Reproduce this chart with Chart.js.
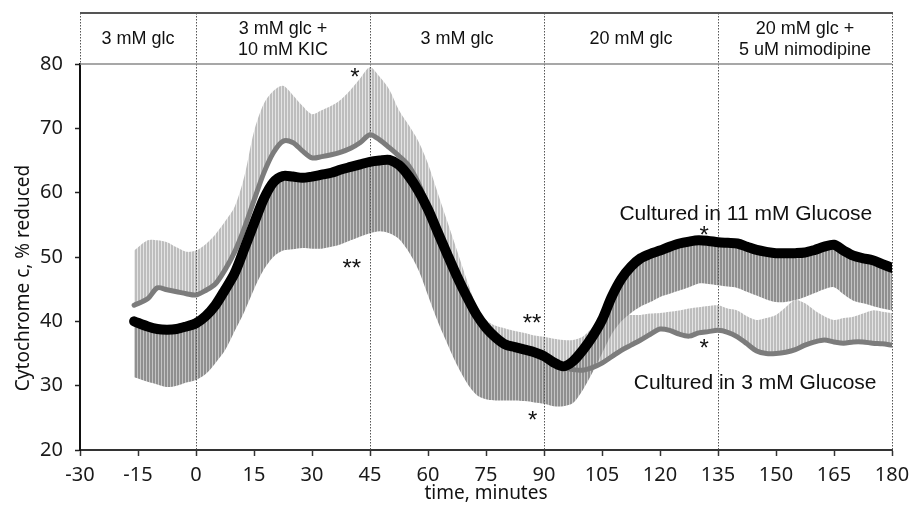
<!DOCTYPE html>
<html>
<head>
<meta charset="utf-8">
<script src="https://cdn.jsdelivr.net/npm/chart.js@4.4.0/dist/chart.umd.min.js"></script>
<style>
  html, body { margin: 0; padding: 0; background: #fff; }
  #wrap { width: 910px; height: 506px; }
</style>
</head>
<body>
<div id="wrap"><canvas id="chart" width="910" height="506"></canvas></div>
<script>
// ── Data: time (min) and cytochrome c reduction (%) ──────────────
const times = [
  -16, -12.5, -10, -7.5, -5, -2.5, 0, 2.5, 5, 7.5,
  10, 12.5, 15, 17.5, 20, 22.5, 25, 27.5, 30, 32.5,
  35, 37.5, 40, 42.5, 45, 47.5, 50, 52.5, 55, 57.5,
  60, 62.5, 65, 67.5, 70, 72.5, 75, 77.5, 80, 82.5,
  85, 87.5, 90, 92.5, 95, 97.5, 100, 102.5, 105, 107.5,
  110, 112.5, 115, 117.5, 120, 122.5, 125, 127.5, 130, 132.5,
  135, 137.5, 140, 142.5, 145, 147.5, 150, 152.5, 155, 157.5,
  160, 162.5, 165, 167.5, 170, 172.5, 175, 177.5, 180
];

// cultured in 11 mM glucose: mean and lower error limit
const mean11 = [
  40.0, 39.2, 38.8, 38.7, 38.8, 39.2, 39.7, 40.8, 42.5, 44.9,
  47.5, 51.3, 55.2, 59.0, 61.6, 62.6, 62.5, 62.3, 62.5, 62.8,
  63.1, 63.6, 64.0, 64.4, 64.8, 65.0, 65.1, 64.3, 62.6, 60.3,
  57.4, 53.9, 50.4, 47.0, 43.9, 41.1, 39.0, 37.5, 36.4, 36.0,
  35.6, 35.2, 34.6, 33.6, 33.0, 33.8, 35.5, 37.6, 40.2, 43.8,
  46.6, 48.5, 49.8, 50.5, 51.0, 51.6, 52.1, 52.4, 52.6, 52.5,
  52.3, 52.2, 52.1, 51.6, 51.1, 50.8, 50.6, 50.6, 50.6, 50.7,
  51.1, 51.6, 51.9, 51.0, 50.2, 49.8, 49.5, 48.9, 48.3
];
const low11 = [
  31.3, 30.6, 30.2, 29.8, 30.0, 30.5, 30.9, 31.8, 33.5, 35.5,
  38.5, 41.5, 45.0, 48.0, 50.0, 51.0, 51.2, 51.4, 51.3, 51.3,
  51.6, 52.0, 52.6, 53.2, 53.7, 54.0, 53.7, 52.8, 50.8, 48.0,
  44.0, 40.0, 36.5, 33.2, 30.5, 28.6, 27.9, 27.7, 27.7, 27.7,
  27.6, 27.4, 27.2, 26.8, 26.8, 27.3, 29.3, 32.0, 35.0, 38.0,
  40.0, 41.3, 42.3, 43.0, 43.8, 44.3, 44.8, 45.3, 45.9, 45.8,
  45.6, 45.4, 45.2, 44.6, 44.0, 43.4, 43.0, 43.0, 43.3, 43.8,
  44.4, 45.0, 45.3, 44.2, 43.2, 42.8, 42.4, 42.0, 41.7
];

// cultured in 3 mM glucose: mean and upper error limit
const mean3 = [
  42.5, 43.5, 45.2, 44.9, 44.6, 44.3, 44.1, 44.8, 45.8, 48.0,
  50.8, 54.5, 58.8, 63.0, 66.2, 68.0, 67.8, 66.5, 65.4, 65.6,
  65.9, 66.3, 66.9, 67.8, 69.0, 68.2, 67.0, 65.7, 64.2, 61.5,
  57.8, 54.0, 50.6, 47.2, 44.0, 41.3, 39.3, 37.8, 36.6, 35.9,
  35.5, 35.0, 34.3, 33.5, 32.8, 32.5, 32.4, 32.8, 33.5, 34.5,
  35.5, 36.3, 37.1, 38.0, 38.8, 38.6, 38.0, 37.7, 38.2, 38.4,
  38.6, 38.3, 37.6, 36.5, 35.4, 35.0, 35.0, 35.2, 35.6, 36.3,
  36.8, 37.1, 36.8, 36.6, 36.8, 36.8, 36.6, 36.5, 36.3
];
const high3 = [
  51.0, 52.6, 52.6, 52.3, 51.5, 50.8, 51.0, 52.0, 53.5, 55.5,
  57.8, 62.5, 69.5, 73.8, 75.8, 76.6, 75.2, 73.5, 72.2, 72.8,
  73.5, 74.5, 76.0, 77.8, 79.5, 78.0, 76.0, 72.8, 70.5, 68.0,
  64.5, 60.0, 55.5, 51.0, 46.5, 42.5, 40.2, 39.3, 38.9, 38.5,
  38.2, 37.8, 37.6, 37.3, 37.1, 37.1, 37.6, 39.0, 40.2, 40.8,
  41.0, 41.0, 41.0, 41.2, 41.3, 41.5, 41.7, 42.0, 42.2, 42.4,
  42.5, 42.0, 41.7, 40.8, 40.2, 40.5, 41.0, 42.2, 43.3, 42.8,
  41.7, 40.8, 40.2, 40.5, 40.7, 41.2, 41.7, 41.5, 41.3
];

// axis ticks
const xTicks = [-30, -15, 0, 15, 30, 45, 60, 75, 90, 105, 120, 135, 150, 165, 180];
const yTicks = [20, 30, 40, 50, 60, 70, 80];

// perfusion phases (boundaries in minutes) and their labels
const phaseBounds = [-30, 0, 45, 90, 135, 180];
const phaseLabels = [
  ['3 mM glc'],
  ['3 mM glc +', '10 mM KIC'],
  ['3 mM glc'],
  ['20 mM glc'],
  ['20 mM glc +', '5 uM nimodipine']
];

// significance marks and curve labels, in data coordinates
const noteText = ['*', '**', '**', '*', '*', '*', 'Cultured in 11 mM Glucose', 'Cultured in 3 mM Glucose'];
const noteTime = [41.1, 40.3, 86.9, 87.1, 131.4, 131.4, 142.2, 144.6];
const noteValue = [78.8, 49.0, 40.5, 25.4, 54.2, 36.6, 56.8, 30.5];

const TICK_FONT = "'Noto Sans', sans-serif";
const TEXT_FONT = "'Liberation Sans', Arial, sans-serif";

function pts(arr) {
  return times.map((t, i) => ({ x: t, y: arr[i] }));
}

// vertical hatch used for the error bands
function stripes(lineColor, gapColor) {
  const c = document.createElement('canvas');
  c.width = 3; c.height = 4;
  const g = c.getContext('2d');
  g.fillStyle = gapColor; g.fillRect(0, 0, 3, 4);
  g.fillStyle = lineColor; g.fillRect(0, 0, 2, 4);
  return g.createPattern(c, 'repeat');
}

function dottedV(ctx, x, y0, y1) {
  ctx.save();
  ctx.strokeStyle = '#555';
  ctx.lineWidth = 1;
  ctx.setLineDash([1.5, 1.5]);
  ctx.beginPath();
  ctx.moveTo(Math.round(x) + 0.5, y0);
  ctx.lineTo(Math.round(x) + 0.5, y1);
  ctx.stroke();
  ctx.restore();
}

// phase dividers go above the bands but under the mean curves
const phaseLines = {
  id: 'phaseLines',
  afterDatasetDraw(chart, args) {
    if (args.index !== 1) return;
    const { ctx, chartArea } = chart;
    const x = chart.scales.x;
    for (let i = 1; i < phaseBounds.length - 1; i++) {
      dottedV(ctx, x.getPixelForValue(phaseBounds[i]), 13, chartArea.bottom);
    }
  }
};

// header strip with the phase names
const phaseHeader = {
  id: 'phaseHeader',
  afterDraw(chart) {
    const { ctx, chartArea } = chart;
    const x = chart.scales.x;
    const top = 13;
    ctx.save();
    ctx.strokeStyle = '#555';
    ctx.lineWidth = 2;
    ctx.beginPath();
    ctx.moveTo(chartArea.left, top);
    ctx.lineTo(chartArea.right + 1, top);
    ctx.stroke();
    ctx.strokeStyle = '#8a8a8a';
    ctx.lineWidth = 1.5;
    ctx.beginPath();
    ctx.moveTo(chartArea.left, chartArea.top);
    ctx.lineTo(chartArea.right, chartArea.top);
    ctx.stroke();
    ctx.restore();

    dottedV(ctx, chartArea.left, top, chartArea.top);
    dottedV(ctx, chartArea.right, top, chartArea.bottom);

    ctx.save();
    ctx.fillStyle = '#111';
    ctx.font = '18px ' + TEXT_FONT;
    ctx.textAlign = 'center';
    ctx.textBaseline = 'middle';
    phaseLabels.forEach((lines, i) => {
      const cx = (x.getPixelForValue(phaseBounds[i]) + x.getPixelForValue(phaseBounds[i + 1])) / 2;
      const cy = (top + chartArea.top) / 2 + 1;
      lines.forEach((s, j) => {
        const dy = (j - (lines.length - 1) / 2) * 21;
        ctx.fillText(s, cx, cy + dy);
      });
    });

    // axis titles
    ctx.font = '19px ' + TICK_FONT;
    ctx.fillStyle = '#111';
    ctx.fillText('time, minutes', 486, 494);
    ctx.translate(24, 278);
    ctx.rotate(-Math.PI / 2);
    ctx.fillText('Cytochrome c, % reduced', 0, 0);
    ctx.restore();
  }
};

// asterisks and curve labels
const notes = {
  id: 'notes',
  afterDatasetsDraw(chart) {
    const { ctx } = chart;
    const x = chart.scales.x, y = chart.scales.y;
    ctx.save();
    ctx.fillStyle = '#111';
    ctx.textAlign = 'center';
    ctx.textBaseline = 'alphabetic';
    noteText.forEach((s, i) => {
      const px = x.getPixelForValue(noteTime[i]);
      const py = y.getPixelForValue(noteValue[i]);
      if (s.indexOf('*') === 0) {
        ctx.font = '24px ' + TEXT_FONT;
        ctx.fillText(s, px, py + 13);
      } else {
        ctx.font = '21px ' + TEXT_FONT;
        ctx.fillText(s, px, py + 7);
      }
    });
    ctx.restore();
  }
};

const canvas = document.getElementById('chart');
const ctx = canvas.getContext('2d');

new Chart(ctx, {
  type: 'line',
  data: {
    datasets: [
      {
        label: '3 mM upper',
        data: pts(high3),
        borderWidth: 0,
        borderColor: 'rgba(0,0,0,0)',
        backgroundColor: stripes('#bdbdbd', '#e4e4e4'),
        fill: 2,
        tension: 0.3,
        order: 3
      },
      {
        label: '11 mM lower',
        data: pts(low11),
        borderWidth: 0,
        borderColor: 'rgba(0,0,0,0)',
        backgroundColor: stripes('#8f8f8f', '#c4c4c4'),
        fill: 3,
        tension: 0.3,
        order: 2
      },
      {
        label: 'Cultured in 3 mM Glucose',
        data: pts(mean3),
        borderColor: '#7c7c7c',
        borderWidth: 5,
        borderCapStyle: 'round',
        borderJoinStyle: 'round',
        fill: false,
        tension: 0.3,
        order: 1
      },
      {
        label: 'Cultured in 11 mM Glucose',
        data: pts(mean11),
        borderColor: '#000',
        borderWidth: 10,
        borderCapStyle: 'round',
        borderJoinStyle: 'round',
        fill: false,
        tension: 0.3,
        order: 0
      }
    ]
  },
  options: {
    responsive: false,
    animation: false,
    layout: { padding: { top: 64, right: 18, left: 0, bottom: 0 } },
    elements: { point: { radius: 0 } },
    plugins: {
      legend: { display: false },
      tooltip: { enabled: false }
    },
    scales: {
      x: {
        type: 'linear',
        min: xTicks[0],
        max: xTicks[xTicks.length - 1],
        afterFit: (s) => { s.height = 56; s.paddingLeft = 0; s.paddingRight = 0; },
        afterBuildTicks: (s) => { s.ticks = xTicks.map(v => ({ value: v })); },
        ticks: {
          autoSkip: false,
          maxRotation: 0,
          padding: 7,
          color: '#1a1a1a',
          font: { family: TICK_FONT, size: 20 }
        },
        grid: { drawOnChartArea: false, tickLength: 6, color: '#333', tickWidth: 1.5 },
        border: { color: '#333', width: 2 }
      },
      y: {
        min: yTicks[0],
        max: yTicks[yTicks.length - 1],
        afterFit: (s) => { s.width = 80; s.paddingTop = 0; s.paddingBottom = 0; },
        afterBuildTicks: (s) => { s.ticks = yTicks.map(v => ({ value: v })); },
        ticks: {
          padding: 12,
          color: '#1a1a1a',
          font: { family: TICK_FONT, size: 20 }
        },
        grid: { drawOnChartArea: false, tickLength: 5, color: '#222', tickWidth: 1.5 },
        border: { color: '#111', width: 2 }
      }
    }
  },
  plugins: [phaseLines, phaseHeader, notes]
});
</script>
</body>
</html>
